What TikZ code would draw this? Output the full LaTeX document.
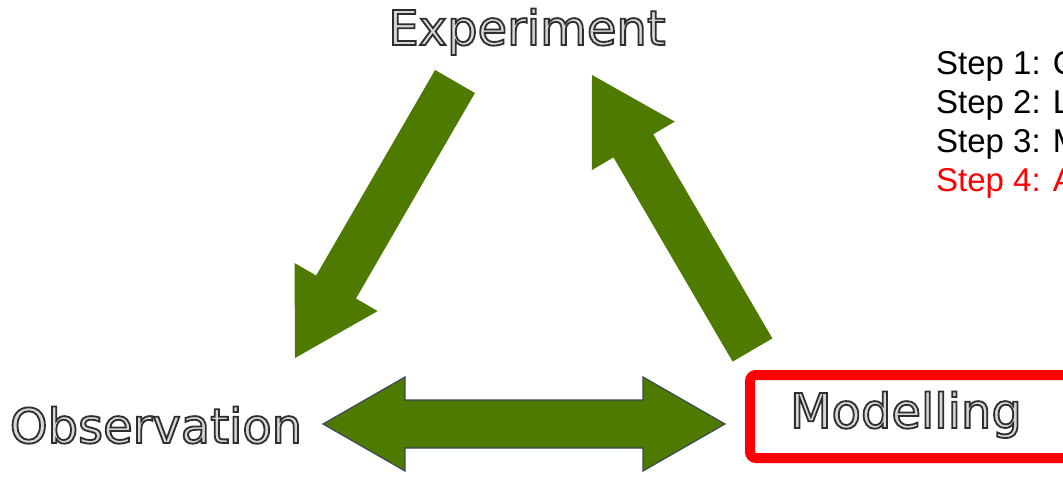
\documentclass[tikz,border=0pt]{standalone}
\usepackage{fontspec}
\setmainfont{Liberation Sans}
\newfontfamily\labfont{DejaVu Sans}
\usetikzlibrary{calc}
\definecolor{arrowgreen}{RGB}{79,122,0}
\definecolor{arrowedge}{RGB}{60,72,88}
\definecolor{labelfill}{RGB}{215,215,215}
\newcommand\outlinetext[1]{\special{pdf:literal direct 2 Tr 1.8 w 0.18 0.18 0.18 RG}#1\special{pdf:literal direct 0 Tr}}
\newcommand\blockarr[2]{%
  \coordinate (#1b) at ($(#2)!82pt!(#1)$);
  \fill[arrowgreen]
    ($(#1)!23pt!90:(#2)$) -- ($(#1b)!23pt!90:(#2)$) -- ($(#1b)!48pt!90:(#2)$) --
    (#2) --
    ($(#1b)!48pt!-90:(#2)$) -- ($(#1b)!23pt!-90:(#2)$) -- ($(#1)!23pt!-90:(#2)$) -- cycle;}
\tikzset{
  lab/.style={inner sep=0pt, font=\labfont\fontsize{48}{56}\selectfont, text=labelfill},
  steptext/.style={inner sep=0pt, anchor=base west, font=\fontsize{33}{39}\selectfont},
  highlight/.style={draw=red, line width=10pt, rounded corners=6pt}
}
\begin{document}
\begin{tikzpicture}[x=1pt,y=-1pt]
\useasboundingbox (0,0) rectangle (1063,478);
\fill[white] (0,0) rectangle (1063,478);

% labels
\node[lab, anchor=base] (exp) at (527,45) {\outlinetext{Experiment}};
\node[lab, anchor=base] (obs) at (156,443) {\outlinetext{Observation}};
\node[lab, anchor=base] (mod) at (906,428) {\outlinetext{Modelling}};

% highlight box round Modelling
\draw[highlight] (750,375) rectangle (1090,458);

% step list (cut at the right edge, as in the reference)
\node[steptext] (s1) at (936,75) {Step 1: C};
\node[steptext] (s2) at (936,114) {Step 2: L};
\node[steptext] (s3) at (936,153) {Step 3: M};
\node[steptext, text=red] (s4) at (936,192) {Step 4: A};

% arrow end points
\coordinate (ea) at (455,81.5);
\coordinate (eb) at (295,358);
\coordinate (ma) at (752.5,350);
\coordinate (mb) at (592,75);
\coordinate (ol) at (323,424);
\coordinate (or) at (725,424);

% Experiment -> Observation
\blockarr{ea}{eb}
% Modelling -> Experiment
\blockarr{ma}{mb}
% Observation <-> Modelling
\coordinate (dl) at ($(ol)!82pt!(or)$);
\coordinate (dr) at ($(or)!82pt!(ol)$);
\filldraw[fill=arrowgreen, draw=arrowedge, line width=1.2pt, line join=miter]
  (ol) -- ($(dl)!47pt!90:(or)$) -- ($(dl)!24pt!90:(or)$) --
  ($(dr)!24pt!-90:(ol)$) -- ($(dr)!47pt!-90:(ol)$) -- (or) --
  ($(dr)!47pt!90:(ol)$) -- ($(dr)!24pt!90:(ol)$) --
  ($(dl)!24pt!-90:(or)$) -- ($(dl)!47pt!-90:(or)$) -- cycle;
\end{tikzpicture}
\end{document}
